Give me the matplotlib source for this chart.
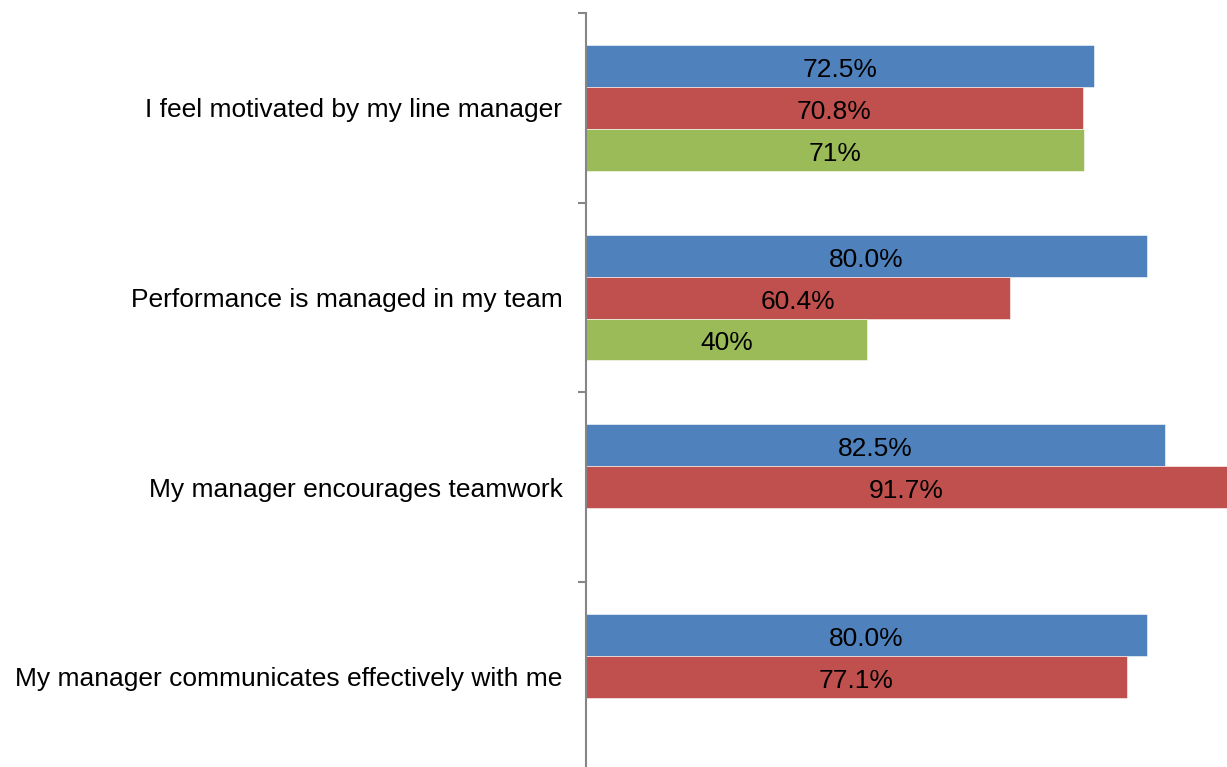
import numpy as np
import matplotlib.pyplot as plt

plt.rcParams['font.family'] = ['Liberation Sans', 'DejaVu Sans']

# data, top to bottom
categories = ["I feel motivated by my line manager",
              "Performance is managed in my team",
              "My manager encourages teamwork",
              "My manager communicates effectively with me"]
blue_vals = [72.5, 80.0, 82.5, 80.0]
red_vals = [70.8, 60.4, 91.7, 77.1]
green_vals = [71, 40, np.nan, np.nan]

blue_lbl = ["72.5%", "80.0%", "82.5%", "80.0%"]
red_lbl = ["70.8%", "60.4%", "91.7%", "77.1%"]
green_lbl = ["71%", "40%", "", ""]

colors = ["#4F81BD", "#C0504D", "#9BBB59"]
xmax = 91.4

#%% figure
fig = plt.figure(figsize=(12.27, 7.67), dpi=100)
W, H = 1227, 767
x0, x1 = 586, 1227
y_top, y_bot = 13, 771.8
ax = fig.add_axes([x0 / W, (H - y_bot) / H, (x1 - x0) / W, (y_bot - y_top) / H])

bh = 0.221
y = np.arange(len(categories)) + 0.5
series = [(blue_vals, blue_lbl), (red_vals, red_lbl), (green_vals, green_lbl)]
for k, (vals, lbls) in enumerate(series):
    pos = y + (k - 1) * bh
    v = np.array(vals, dtype=float)
    ax.barh(pos, np.nan_to_num(v), height=bh, color=colors[k],
            edgecolor="white", linewidth=0.4)
    for p, val, lab in zip(pos, v, lbls):
        if np.isnan(val):
            continue
        ax.text(min(val, xmax) / 2, p + 0.058, lab, ha="center", va="baseline",
                fontsize=19, color="black")

ax.set_xlim(0, xmax)
ax.set_ylim(len(categories), 0)

ax.set_yticks(np.arange(len(categories) + 1))
ax.set_yticklabels([])
ax.set_yticks(y, minor=True)
ax.set_yticklabels(categories, minor=True, fontsize=19)
ax.tick_params(axis="y", which="minor", length=0, pad=17)
ax.tick_params(axis="y", which="major", length=6, width=1.5, color="#868686", direction="out")
ax.set_xticks([])

for s in ["top", "right", "bottom"]:
    ax.spines[s].set_visible(False)
ax.spines["left"].set_color("#868686")
ax.spines["left"].set_linewidth(1.5)

fig.savefig("out.png", dpi=100)
